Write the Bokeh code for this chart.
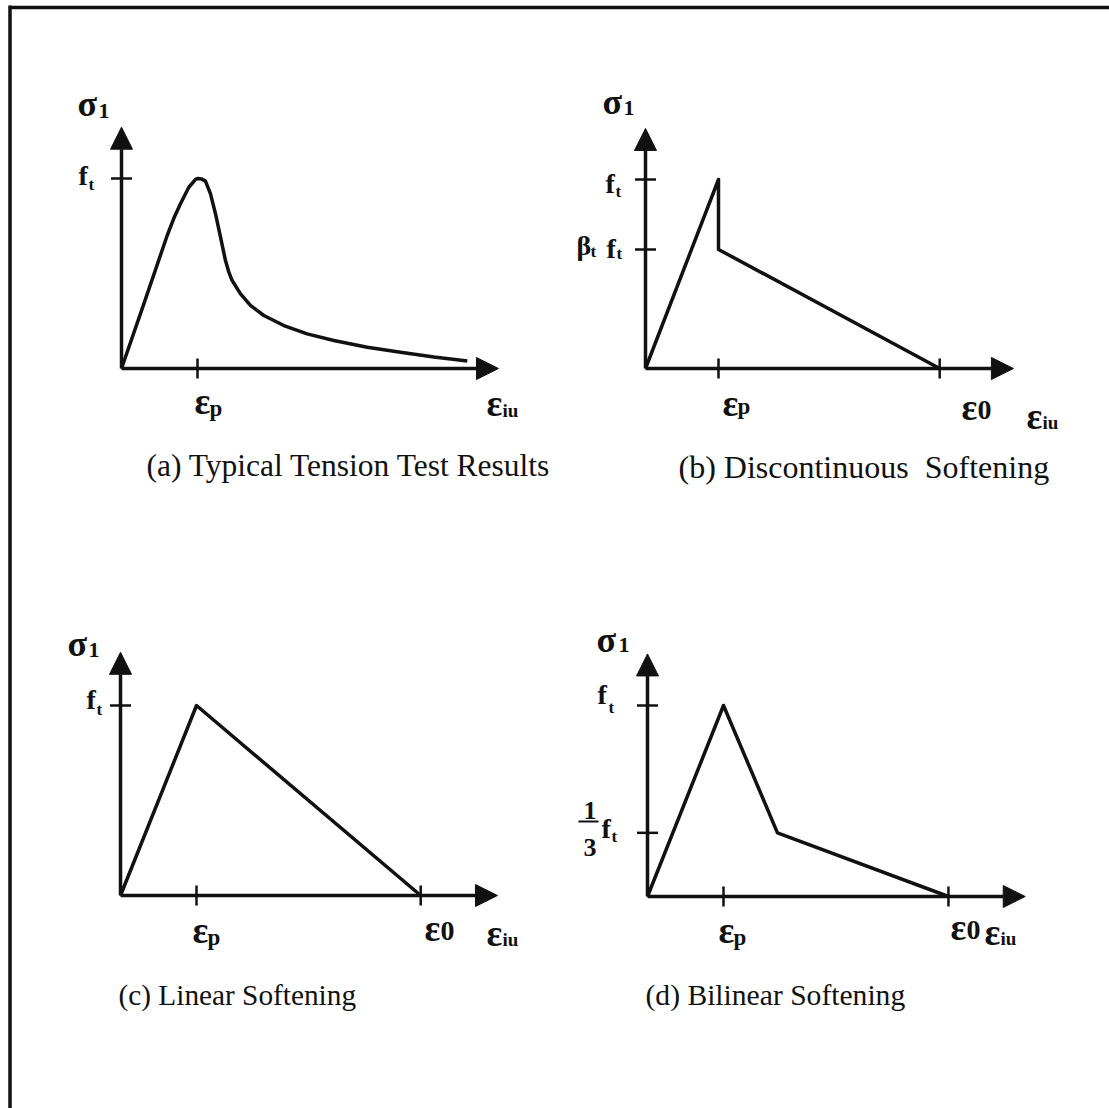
from bokeh.plotting import figure
from bokeh.models import Range1d, Arrow, NormalHead
from bokeh.core.properties import value
from bokeh.embed import file_html
from bokeh.resources import INLINE

# ---- curves, in units of eps_p (strain) and f_t (stress) ----
# (a) typical tension test result
EPS_A = [0, 0.294, 0.601, 0.69, 0.776, 0.886, 0.974, 1.0, 1.05, 1.105, 1.171, 1.237, 1.303,
         1.368, 1.41, 1.456, 1.566, 1.697, 1.873, 2.136, 2.443, 2.794, 3.233, 3.671, 4.11, 4.55]
SIG_A = [0, 0.34, 0.700, 0.792, 0.867, 0.954, 0.995, 1.0, 0.998, 0.986, 0.919, 0.814, 0.691,
         0.568, 0.51, 0.463, 0.393, 0.332, 0.279, 0.226, 0.182, 0.147, 0.112, 0.086, 0.060, 0.039]

# (b) discontinuous softening
BETA_T = 0.63
EPS0_B = 4.03
EPS_B = [0, 1.0, 1.0, EPS0_B]
SIG_B = [0, 1.0, BETA_T, 0]

# (c) linear softening
EPS0_C = 3.95
EPS_C = [0, 1.0, EPS0_C]
SIG_C = [0, 1.0, 0]

# (d) bilinear softening
EPS0_D = 3.96
EPS_KNEE_D = 1.71
SIG_KNEE_D = 1.0 / 3.0
EPS_D = [0, 1.0, EPS_KNEE_D, EPS0_D]
SIG_D = [0, 1.0, SIG_KNEE_D, 0]

# tick values on each axis
YTICKS = {"a": [1.0], "b": [1.0, BETA_T], "c": [1.0], "d": [1.0, SIG_KNEE_D]}
XTICKS = {"a": [1.0], "b": [1.0, EPS0_B], "c": [1.0, EPS0_C], "d": [1.0, EPS0_D]}
CURVES = {"a": (EPS_A, SIG_A), "b": (EPS_B, SIG_B), "c": (EPS_C, SIG_C), "d": (EPS_D, SIG_D)}

# ---- page layout: origin pixel and pixels per unit for each sketch ----
W, H = 1109, 1108
PANELS = {
    "a": dict(ox=121, oy=368, sx=76, sy=190, xtip=4.96, ytip=1.27),
    "b": dict(ox=645, oy=368, sx=73, sy=189, xtip=5.04, ytip=1.27),
    "c": dict(ox=120, oy=895, sx=76, sy=190, xtip=4.96, ytip=1.28),
    "d": dict(ox=647, oy=896, sx=76, sy=191, xtip=4.97, ytip=1.27),
}

p = figure(width=W, height=H, x_range=Range1d(0, W), y_range=Range1d(H, 0),
           output_backend="svg", toolbar_location=None, min_border=0,
           x_axis_type=None, y_axis_type=None)
p.outline_line_color = None
p.background_fill_color = "white"
p.border_fill_color = "white"

p.extra_x_ranges = {k: Range1d((0 - g["ox"]) / g["sx"], (W - g["ox"]) / g["sx"])
                    for k, g in PANELS.items()}
p.extra_y_ranges = {k: Range1d((g["oy"] - H) / g["sy"], g["oy"] / g["sy"])
                    for k, g in PANELS.items()}

INK = "#111111"

for k, g in PANELS.items():
    rn = dict(x_range_name=k, y_range_name=k)
    # axes with arrow heads
    for xe, ye in ((g["xtip"], 0), (0, g["ytip"])):
        p.add_layout(Arrow(x_start=0, y_start=0, x_end=xe, y_end=ye,
                           line_width=3.5, line_color=INK,
                           end=NormalHead(size=22, fill_color=INK, line_color=INK, line_width=1),
                           **rn))
    # tick marks
    yt = YTICKS[k]
    p.scatter([0] * len(yt), yt, marker="dash", size=21, line_width=2.5,
              line_color=INK, **rn)
    xt = XTICKS[k]
    p.scatter(xt, [0] * len(xt), marker="dash", angle=1.5708, size=20, line_width=2.5,
              line_color=INK, **rn)
    # stress-strain curve
    ex, sy_ = CURVES[k]
    p.line(ex, sy_, line_width=3.5, line_color=INK, line_join="round", **rn)

# border of the sheet
p.segment(x0=[9, 9.5], y0=[7, 5], x1=[W, 9.5], y1=[7, H], line_width=3.5, line_color=INK)

SERIF = value("Liberation Serif")
DY = -9  # baseline correction for the svg text layout


def lab(x, y, s, size, bold=True):
    p.text(x=[x], y=[y + DY], text=[s], text_font=SERIF, text_font_size=f"{size}px",
           text_font_style="bold" if bold else "normal", text_color=INK,
           text_align="left", text_baseline="alphabetic")


def sym(x, y, main, sub, xs, ys, msize=36, ssize=21):
    lab(x, y, main, msize)
    lab(xs, ys, sub, ssize)


SIG_SZ, EPS_SZ, F_SZ, T_SZ, ZERO_SZ = 36, 37, 28, 17, 28

# (a)
sym(77, 112, "σ", "1", 98, 119, SIG_SZ, 22)
sym(78, 184, "f", "t", 88, 193, F_SZ, T_SZ)
sym(194, 410, "ε", "p", 209, 417, EPS_SZ, 23)
sym(486, 412, "ε", "iu", 502, 419, EPS_SZ, 19)

# (b)
sym(602, 110, "σ", "1", 623, 116, SIG_SZ, 22)
sym(605, 192, "f", "t", 615, 200, F_SZ, T_SZ)
sym(576, 254, "β", "t", 590, 260, 28, T_SZ)
sym(606, 257, "f", "t", 616, 262, F_SZ, T_SZ)
sym(722, 412, "ε", "p", 737, 415, EPS_SZ, 23)
sym(961, 416, "ε", "0", 977, 418, EPS_SZ, ZERO_SZ)
sym(1026, 425, "ε", "iu", 1042, 431, EPS_SZ, 19)

# (c)
sym(67, 652, "σ", "1", 88, 658, SIG_SZ, 22)
sym(86, 708, "f", "t", 96, 718, F_SZ, T_SZ)
sym(192, 939, "ε", "p", 207, 946, EPS_SZ, 23)
sym(424, 937, "ε", "0", 440, 939, EPS_SZ, ZERO_SZ)
sym(486, 942, "ε", "iu", 502, 948, EPS_SZ, 19)

# (d)
sym(596, 648, "σ", "1", 618, 653, SIG_SZ, 22)
sym(597, 703, "f", "t", 608, 716, F_SZ, T_SZ)
lab(583, 819, "1", 26)
lab(583, 856, "3", 26)
p.segment(x0=[578], y0=[830 + DY], x1=[598], y1=[830 + DY], line_width=2, line_color=INK)
sym(601, 837, "f", "t", 611, 845, F_SZ, T_SZ)
sym(718, 939, "ε", "p", 733, 946, EPS_SZ, 23)
sym(950, 936, "ε", "0", 966, 938, EPS_SZ, ZERO_SZ)
sym(984, 941, "ε", "iu", 1000, 947, EPS_SZ, 19)

# captions
lab(146, 474, "(a) Typical Tension Test Results", 31.5, bold=False)
lab(678, 475, "(b) Discontinuous\u00a0 Softening", 32, bold=False)
lab(118, 1003, "(c) Linear Softening", 29.3, bold=False)
lab(645, 1003, "(d) Bilinear Softening", 29.6, bold=False)

open("out.html", "w").write(file_html(p, INLINE))
